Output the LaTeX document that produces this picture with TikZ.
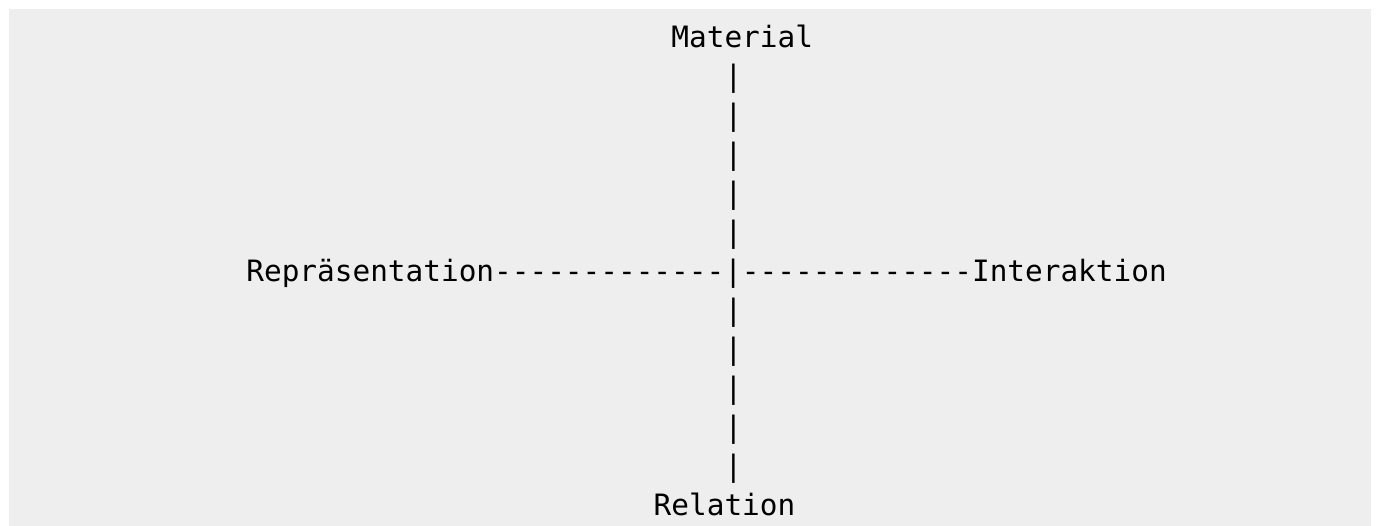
\documentclass[tikz,border=0pt]{standalone}
\usepackage{fontspec}
\newfontfamily\asciimono{DejaVu Sans Mono}
\definecolor{bggray}{HTML}{EEEEEE}
\begin{document}
\begin{tikzpicture}[x=1pt,y=-1pt,
  asciitext/.style={anchor=base west,inner sep=0pt,outer sep=0pt,text=black,
    font=\asciimono\fontsize{29.4pt}{39pt}\selectfont}]
\def\xo{246.4}
\def\cw{17.71}
\def\yo{47.5}
\def\lh{39}
\useasboundingbox (0,0) rectangle (1376,526);
\fill[white] (0,0) rectangle (1376,526);
\fill[bggray] (9,9) rectangle (1371,526);
\node[asciitext] (material) at ({\xo+24*\cw},{\yo}) {Material};
\foreach \i in {1,...,5,7,8,9,10,11}{
  \node[asciitext] (v\i) at ({\xo+27*\cw},{\yo+\i*\lh}) {|};
}
\node[asciitext] (axis) at ({\xo},{\yo+6*\lh}) {Repräsentation-------------|-------------Interaktion};
\node[asciitext] (relation) at ({\xo+23*\cw},{\yo+12*\lh}) {Relation};
\end{tikzpicture}
\end{document}
